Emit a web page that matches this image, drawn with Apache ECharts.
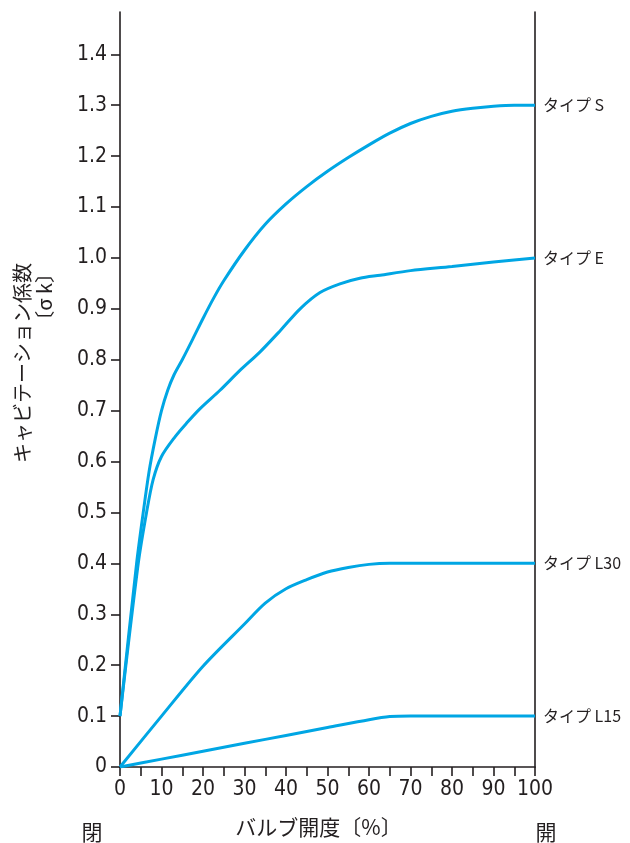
<!DOCTYPE html>
<html>
<head>
<meta charset="utf-8">
<script src="https://cdn.jsdelivr.net/npm/echarts@6/dist/echarts.min.js"></script>
<style>
html,body{margin:0;padding:0;background:#fff;}
#chart{width:630px;height:843px;}
</style>
</head>
<body>
<div id="chart"></div>
<script>
// ---- data ----
const seriesNames = ['タイプ S', 'タイプ E', 'タイプ L30', 'タイプ L15'];
const typeS = [[0,0.10],[4,0.40],[5.6,0.50],[7,0.58],[8.5,0.645],[10,0.70],[11.5,0.74],[13,0.77],[15,0.80],[17.5,0.84],[20,0.881],[22.5,0.92],[25,0.955],[30,1.015],[35,1.066],[40,1.106],[45,1.14],[50,1.17],[55,1.197],[60,1.222],[65,1.245],[70,1.264],[75,1.278],[80,1.288],[85,1.294],[90,1.298],[95,1.30],[100,1.30]];
const typeE = [[0,0.10],[4.4,0.40],[6.4,0.50],[8,0.565],[10,0.61],[13.3,0.649],[16,0.675],[19.3,0.704],[24.1,0.74],[28.9,0.779],[33.7,0.815],[38.6,0.857],[43.4,0.90],[48.2,0.932],[53,0.949],[57.8,0.96],[62.7,0.966],[70,0.975],[80,0.983],[90,0.992],[100,1.0]];
const typeL30 = [[0,0],[10,0.1],[20,0.198],[30,0.281],[35,0.322],[40,0.350],[45,0.368],[50,0.383],[55,0.392],[60,0.398],[65,0.40],[70,0.40],[80,0.40],[100,0.40]];
const typeL15 = [[0,0],[10,0.0155],[20,0.031],[30,0.0465],[40,0.062],[50,0.0775],[60,0.093],[65,0.099],[70,0.10],[80,0.10],[100,0.10]];
const xTickValues = [0,5,10,15,20,25,30,35,40,45,50,55,60,65,70,75,80,85,90,95,100];
const xLabelValues = [0,10,20,30,40,50,60,70,80,90,100];
const yTickValues = [0,0.1,0.2,0.3,0.4,0.5,0.6,0.7,0.8,0.9,1.0,1.1,1.2,1.3,1.4];
const xAxisName = 'バルブ開度〔%〕';
const yAxisName = 'キャビテーション係数\n〔σ k〕';
const closedLabel = '閉';
const openLabel = '開';

// ---- styling ----
const ink = '#231f20';
const lineColor = '#00a6e4';
const numFont = "Liberation Sans Narrow, DejaVu Sans Condensed, Liberation Sans, Arial, sans-serif";
const jpFont = "Noto Sans CJK JP, sans-serif";
const yMax = 1.483;

const chart = echarts.init(document.getElementById('chart'), null, {renderer: 'canvas'});

const datasets = [typeS, typeE, typeL30, typeL15];

chart.setOption({
  animation: false,
  backgroundColor: '#fff',
  grid: {left: 120, right: 95, top: 12, bottom: 70, containLabel: false},
  xAxis: {
    type: 'value', min: 0, max: 100,
    name: xAxisName, nameLocation: 'middle', nameGap: 50,
    nameTextStyle: {fontFamily: jpFont, fontSize: 21, color: ink, padding: [0, 18, 0, 0]},
    axisLine: {show: true, lineStyle: {color: ink, width: 1.6}},
    axisTick: {show: true, inside: false, length: 9, customValues: xTickValues, lineStyle: {color: ink, width: 1.6}},
    axisLabel: {customValues: xLabelValues, margin: 12, fontFamily: numFont, fontSize: 21, color: ink},
    splitLine: {show: false}
  },
  yAxis: [{
    type: 'value', min: 0, max: yMax, position: 'left',
    axisLine: {show: true, onZero: false, lineStyle: {color: ink, width: 1.6}},
    axisTick: {show: true, inside: false, length: 9, customValues: yTickValues, lineStyle: {color: ink, width: 1.6}},
    axisLabel: {customValues: yTickValues, margin: 13, fontFamily: numFont, fontSize: 21, color: ink,
      formatter: v => (Math.round(v * 10) === 0 ? '0' : (Math.round(v * 10) / 10).toFixed(1))},
    splitLine: {show: false}
  }, {
    type: 'value', min: 0, max: yMax, position: 'right',
    axisLine: {show: true, onZero: false, lineStyle: {color: ink, width: 1.6}},
    axisTick: {show: false}, axisLabel: {show: false}, splitLine: {show: false}
  }],
  graphic: [
    {type: 'text', x: 33, y: 263, rotation: Math.PI / 2,
     style: {text: yAxisName, fontSize: 20, fontFamily: jpFont, fill: ink, align: 'right', verticalAlign: 'middle', lineHeight: 22}},
    {type: 'text', x: 92, y: 832,
     style: {text: closedLabel, fontSize: 21, fontFamily: jpFont, fill: ink, align: 'center', verticalAlign: 'middle'}},
    {type: 'text', x: 546, y: 832,
     style: {text: openLabel, fontSize: 21, fontFamily: jpFont, fill: ink, align: 'center', verticalAlign: 'middle'}}
  ],
  series: datasets.map((d, i) => ({
    name: seriesNames[i],
    type: 'line',
    data: d,
    smooth: 0.3,
    symbol: 'none',
    lineStyle: {color: lineColor, width: 3},
    endLabel: {show: true, formatter: '{a}', distance: 8, fontFamily: jpFont, fontSize: 16, color: ink}
  }))
});
</script>
</body>
</html>
